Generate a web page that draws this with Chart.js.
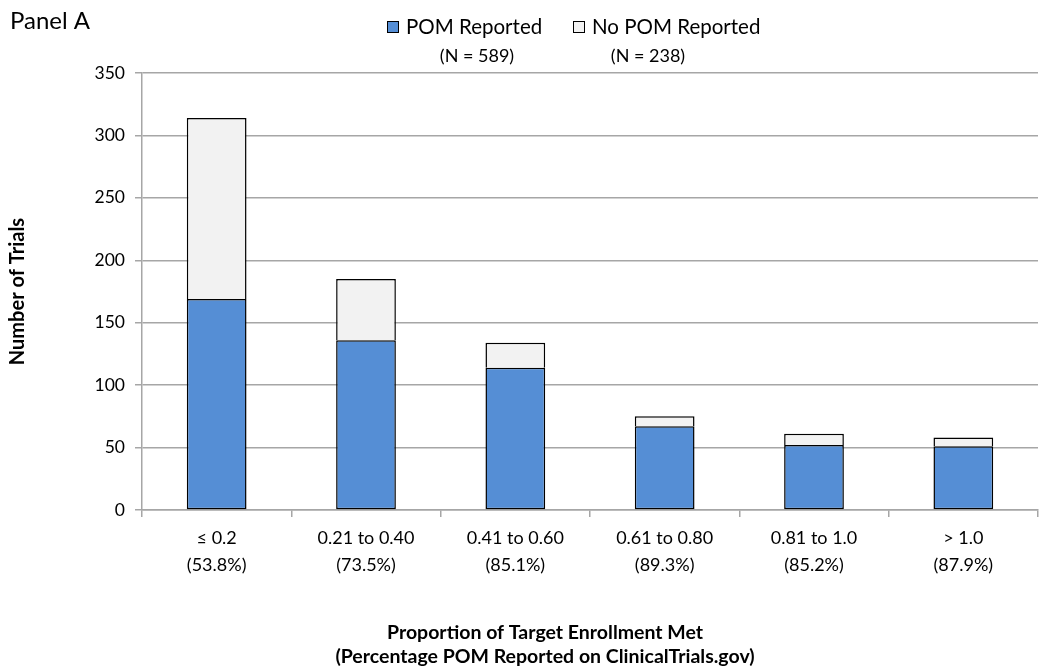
<!DOCTYPE html>
<html>
<head>
<meta charset="utf-8">
<script src="https://cdn.jsdelivr.net/npm/chart.js@4"></script>
<style>
html,body{margin:0;padding:0;background:#fff;}
#wrap{width:1045px;height:668px;position:relative;}
</style>
</head>
<body>
<div id="wrap"><canvas id="c"></canvas></div>
<script>
const categories = [['≤ 0.2','(53.8%)'],['0.21 to 0.40','(73.5%)'],['0.41 to 0.60','(85.1%)'],['0.61 to 0.80','(89.3%)'],['0.81 to 1.0','(85.2%)'],['> 1.0','(87.9%)']];
const pomReported = [169, 136, 114, 67, 52, 51];
const noPomReported = [145, 49, 20, 8, 9, 7];
const seriesNames = ['POM Reported', 'No POM Reported'];
const seriesCounts = ['(N = 589)', '(N = 238)'];
const yTicks = [0, 50, 100, 150, 200, 250, 300, 350];
const xTitle = ['Proportion of Target Enrollment Met', '(Percentage POM Reported on ClinicalTrials.gov)'];
const yTitle = 'Number of Trials';
const panelLabel = 'Panel A';

const FONT = 'Lato, "Noto Sans", sans-serif';
const BLUE = '#558ed5';
const LIGHT = '#f2f2f2';
const GRID = '#a6a6a6';

const overlay = {
  id: 'overlay',
  afterDraw(chart) {
    const ctx = chart.ctx;
    ctx.save();
    ctx.fillStyle = '#000';
    ctx.textBaseline = 'middle';
    ctx.font = '24px ' + FONT;
    ctx.textAlign = 'left';
    ctx.fillText(panelLabel, 10, 21);
    // legend
    const items = [
      {box: 387, text: 406, ncx: 477, color: BLUE},
      {box: 573, text: 592, ncx: 648, color: LIGHT}
    ];
    items.forEach((it, i) => {
      ctx.fillStyle = it.color;
      ctx.fillRect(it.box, 21, 12, 12);
      ctx.strokeStyle = '#000';
      ctx.lineWidth = 1;
      ctx.strokeRect(it.box + 0.5, 21.5, 11, 11);
      ctx.fillStyle = '#000';
      ctx.font = '20.5px ' + FONT;
      ctx.textAlign = 'left';
      ctx.fillText(seriesNames[i], it.text, 27);
      ctx.font = '18px ' + FONT;
      ctx.textAlign = 'center';
      ctx.fillText(seriesCounts[i], it.ncx, 56);
    });
    // x-axis title
    ctx.font = 'bold 19.5px ' + FONT;
    ctx.textAlign = 'center';
    ctx.fillText(xTitle[0], 545, 633);
    ctx.fillText(xTitle[1], 545, 657);
    ctx.restore();
  }
};

new Chart(document.getElementById('c'), {
  type: 'bar',
  data: {
    labels: categories,
    datasets: [
      {label: seriesNames[0], data: pomReported, backgroundColor: BLUE, borderColor: '#000', borderWidth: 1.5, borderSkipped: false, barPercentage: 0.40, categoryPercentage: 1.0},
      {label: seriesNames[1], data: noPomReported, backgroundColor: LIGHT, borderColor: '#000', borderWidth: 1.5, borderSkipped: 'bottom', barPercentage: 0.40, categoryPercentage: 1.0}
    ]
  },
  options: {
    responsive: true,
    maintainAspectRatio: false,
    animation: false,
    layout: {padding: {top: 73, right: 7, bottom: 0, left: 0}},
    plugins: {legend: {display: false}, tooltip: {enabled: false}, title: {display: false}},
    scales: {
      x: {
        stacked: true,
        offset: true,
        grid: {display: true, drawOnChartArea: false, drawTicks: true, tickLength: 7, offset: true, color: GRID, lineWidth: 1.5},
        border: {display: true, color: GRID, width: 1.5},
        ticks: {color: '#000', font: {family: FONT, size: 18, lineHeight: 1.5}, padding: 8, maxRotation: 0, autoSkip: false},
        afterFit(s) { s.height = 158; }
      },
      y: {
        stacked: true,
        min: 0, max: 350,
        afterBuildTicks(s) { s.ticks = yTicks.map(v => ({value: v})); },
        grid: {color: GRID, lineWidth: 1.5, tickLength: 7, drawTicks: true},
        border: {display: true, color: GRID, width: 1.5},
        ticks: {color: '#000', font: {family: FONT, size: 17.5}, padding: 10},
        title: {display: true, text: yTitle, color: '#000', font: {family: FONT, size: 20, weight: 'bold'}, padding: {top: 6, bottom: 0}},
        afterFit(s) { s.width = 142; }
      }
    }
  },
  plugins: [overlay]
});
</script>
</body>
</html>
